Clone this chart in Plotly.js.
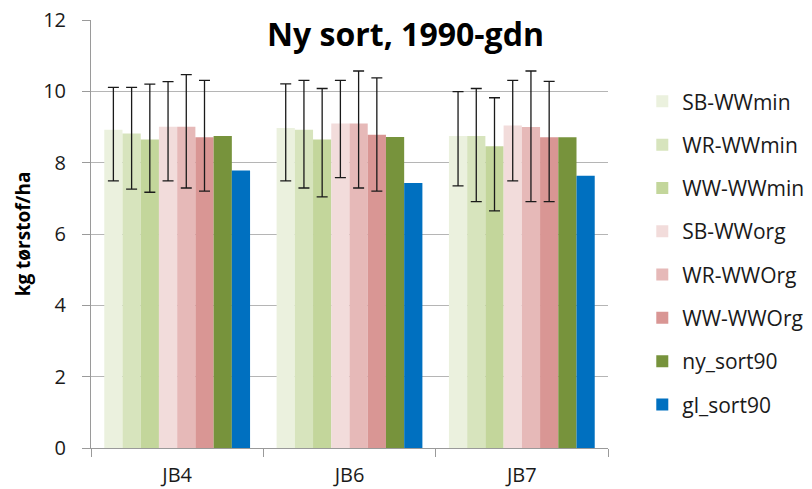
<!DOCTYPE html>
<html>
<head>
<meta charset="utf-8">
<script src="https://cdn.plot.ly/plotly-3.0.1.min.js"></script>
<style>html,body{margin:0;padding:0;background:#fff;}#chart{width:812px;height:489px;}</style>
</head>
<body>
<div id="chart"></div>
<script>
const categories = ["JB4", "JB6", "JB7"];
const seriesNames = ["SB-WWmin", "WR-WWmin", "WW-WWmin", "SB-WWorg", "WR-WWOrg", "WW-WWOrg", "ny_sort90", "gl_sort90"];
const seriesColors = ["#EBF1DE", "#D7E4BD", "#C3D69B", "#F2DCDB", "#E6B9B8", "#D99694", "#77933C", "#0070C0"];
const SB_WWmin = [8.92, 8.97, 8.75];
const WR_WWmin = [8.82, 8.92, 8.75];
const WW_WWmin = [8.65, 8.65, 8.46];
const SB_WWorg = [9.01, 9.10, 9.04];
const WR_WWOrg = [9.01, 9.10, 9.00];
const WW_WWOrg = [8.71, 8.78, 8.71];
const ny_sort90 = [8.75, 8.72, 8.71];
const gl_sort90 = [7.78, 7.43, 7.63];
// error bar upper / lower ends (absolute values)
const SB_WWmin_hi = [10.11, 10.21, 9.99];
const SB_WWmin_lo = [7.49, 7.49, 7.35];
const WR_WWmin_hi = [10.11, 10.31, 10.08];
const WR_WWmin_lo = [7.26, 7.29, 6.91];
const WW_WWmin_hi = [10.20, 10.08, 9.82];
const WW_WWmin_lo = [7.17, 7.04, 6.65];
const SB_WWorg_hi = [10.27, 10.31, 10.31];
const SB_WWorg_lo = [7.49, 7.58, 7.49];
const WR_WWOrg_hi = [10.47, 10.57, 10.57];
const WR_WWOrg_lo = [7.29, 7.29, 6.91];
const WW_WWOrg_hi = [10.31, 10.38, 10.28];
const WW_WWOrg_lo = [7.20, 7.20, 6.91];

const values = [SB_WWmin, WR_WWmin, WW_WWmin, SB_WWorg, WR_WWOrg, WW_WWOrg, ny_sort90, gl_sort90];
const highs = [SB_WWmin_hi, WR_WWmin_hi, WW_WWmin_hi, SB_WWorg_hi, WR_WWOrg_hi, WW_WWOrg_hi, null, null];
const lows = [SB_WWmin_lo, WR_WWmin_lo, WW_WWmin_lo, SB_WWorg_lo, WR_WWOrg_lo, WW_WWOrg_lo, null, null];

const FONT = "'Open Sans', sans-serif";

const traces = seriesNames.map((name, i) => {
  const t = {
    type: "bar",
    name: name,
    x: categories,
    y: values[i],
    legendgroup: "g" + i,
    marker: {color: seriesColors[i], line: {width: 0}},
    hoverinfo: "skip"
  };
  if (highs[i]) {
    t.error_y = {
      type: "data",
      symmetric: false,
      array: highs[i].map((h, k) => h - values[i][k]),
      arrayminus: lows[i].map((l, k) => values[i][k] - l),
      color: "#1a1a1a",
      thickness: 1.3,
      width: 5.5
    };
  }
  return t;
});

const layout = {
  width: 812,
  height: 489,
  margin: {l: 91, r: 204, t: 20, b: 41},
  paper_bgcolor: "#ffffff",
  plot_bgcolor: "#ffffff",
  font: {family: FONT, color: "#1a1a1a", size: 20},
  barmode: "group",
  bargap: 0.154,
  bargroupgap: 0,
  showlegend: true,
  legend: {
    xref: "container", yref: "paper",
    x: 0.791, y: 0.857, xanchor: "left", yanchor: "top",
    font: {family: FONT, size: 21, color: "#1a1a1a"},
    tracegroupgap: 13,
    itemwidth: 30,
    bgcolor: "rgba(0,0,0,0)"
  },
  xaxis: {
    type: "category",
    showgrid: false,
    showline: true,
    linecolor: "#9a9a9a",
    linewidth: 1,
    ticks: "outside",
    tickson: "boundaries",
    ticklen: 8,
    tickcolor: "#9a9a9a",
    tickfont: {family: FONT, size: 20, color: "#1a1a1a"},
    ticklabelstandoff: 9,
    zeroline: false
  },
  yaxis: {
    range: [0, 12],
    dtick: 2,
    tick0: 0,
    showgrid: true,
    gridcolor: "#b5b5b5",
    gridwidth: 1,
    showline: true,
    linecolor: "#9a9a9a",
    ticks: "outside",
    ticklen: 8,
    tickcolor: "#9a9a9a",
    tickfont: {family: FONT, size: 20, color: "#1a1a1a"},
    ticklabelstandoff: 12,
    zeroline: false,
    title: {text: "<b>kg tørstof/ha</b>", font: {family: FONT, size: 19, color: "#000"}, standoff: 7}
  },
  annotations: [{
    text: "<b>Ny sort, 1990-gdn</b>",
    xref: "paper", yref: "paper",
    x: 0.609, y: 0.969, xanchor: "center", yanchor: "middle",
    showarrow: false,
    font: {family: FONT, size: 32, color: "#000"}
  }]
};

Plotly.newPlot("chart", traces, layout, {displayModeBar: false, staticPlot: true});
</script>
</body>
</html>
